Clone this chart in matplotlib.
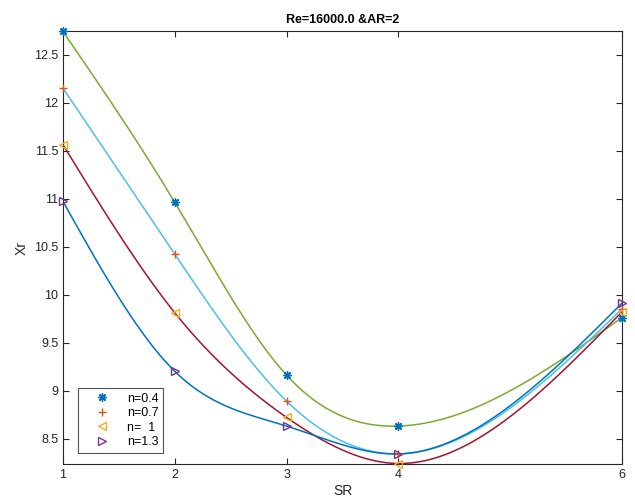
import numpy as np
import matplotlib
matplotlib.use("Agg")
import matplotlib.pyplot as plt

plt.rcParams['font.family'] = ['Liberation Sans', 'DejaVu Sans']

sr = [1, 2, 3, 4, 6]
labels = ['n=0.4', 'n=0.7', 'n=  1', 'n=1.3']
xr_n04 = [12.74, 10.96, 9.16, 8.63, 9.76]
xr_n07 = [12.15, 10.42, 8.89, 8.34, 9.85]
xr_n10 = [11.56, 9.81, 8.72, 8.24, 9.82]
xr_n13 = [10.97, 9.20, 8.63, 8.34, 9.91]
series = [xr_n04, xr_n07, xr_n10, xr_n13]

marker_colors = ['#0072BD', '#D95319', '#EDB120', '#7E2F8E']
line_colors = ['#77AC30', '#4DBEEE', '#A2142F', '#0072BD']
markers = [(8, 2, 0), '+', '<', '>']


def natural_spline(x, y, xq):
    x = np.asarray(x, float); y = np.asarray(y, float)
    n = len(x) - 1
    h = np.diff(x)
    A = np.zeros((n + 1, n + 1)); b = np.zeros(n + 1)
    A[0, 0] = 1; A[n, n] = 1
    for i in range(1, n):
        A[i, i - 1] = h[i - 1]
        A[i, i] = 2 * (h[i - 1] + h[i])
        A[i, i + 1] = h[i]
        b[i] = 6 * ((y[i + 1] - y[i]) / h[i] - (y[i] - y[i - 1]) / h[i - 1])
    M = np.linalg.solve(A, b)
    out = np.empty_like(xq)
    for k, xx in enumerate(xq):
        i = min(max(np.searchsorted(x, xx, side='right') - 1, 0), n - 1)
        t1 = x[i + 1] - xx; t0 = xx - x[i]; hi = h[i]
        out[k] = (M[i] * t1**3 + M[i + 1] * t0**3) / (6 * hi) \
            + (y[i] / hi - M[i] * hi / 6) * t1 + (y[i + 1] / hi - M[i + 1] * hi / 6) * t0
    return out


fig = plt.figure(figsize=(6.35, 4.97), dpi=100)
ax = fig.add_axes([0.0992, 0.0664, 0.8803, 0.8712])

xs = np.linspace(sr[0], sr[-1], 400)
for vals, lc in zip(series, line_colors):
    ax.plot(xs, natural_spline(sr, vals, xs), color=lc, lw=1.1, zorder=2)

handles = []
for vals, mc, mk, lab in zip(series, marker_colors, markers, labels):
    h, = ax.plot(sr, vals, linestyle='none', marker=mk, color=mc, mfc='none' if mk in ('<', '>') else mc,
                 mec=mc, ms=6, mew=1.0, label=lab, zorder=3, clip_on=False)
    handles.append(h)

ax.set_xlim(1, 6)
ax.set_ylim(8.235, 12.745)
ax.set_xticks(sr)
ax.set_xticklabels(['1', '2', '3', '4', '6'])
ax.set_yticks([8.5, 9, 9.5, 10, 10.5, 11, 11.5, 12, 12.5])
ax.set_yticklabels(['8.5', '9', '9.5', '10', '10.5', '11', '11.5', '12', '12.5'])
ax.tick_params(direction='in', top=True, right=True, labelsize=9, colors='#262626',
               length=4, width=0.8)
for s in ax.spines.values():
    s.set_color('#262626'); s.set_linewidth(0.8)

ax.set_title('Re=16000.0 &AR=2', fontsize=9, fontweight='bold', pad=6)
ax.set_xlabel('SR', fontsize=10, color='#262626', labelpad=2)
ax.set_ylabel('Xr', fontsize=10, color='#262626', labelpad=4)

leg = ax.legend(handles=handles, loc='lower left', bbox_to_anchor=(0.027, 0.025),
                borderaxespad=0, fontsize=9, frameon=True, fancybox=False,
                edgecolor='#262626', handlelength=3.0, labelspacing=0.2,
                borderpad=0.4, handletextpad=0.5)
leg.get_frame().set_linewidth(0.8)

fig.savefig('out.png', dpi=100)
